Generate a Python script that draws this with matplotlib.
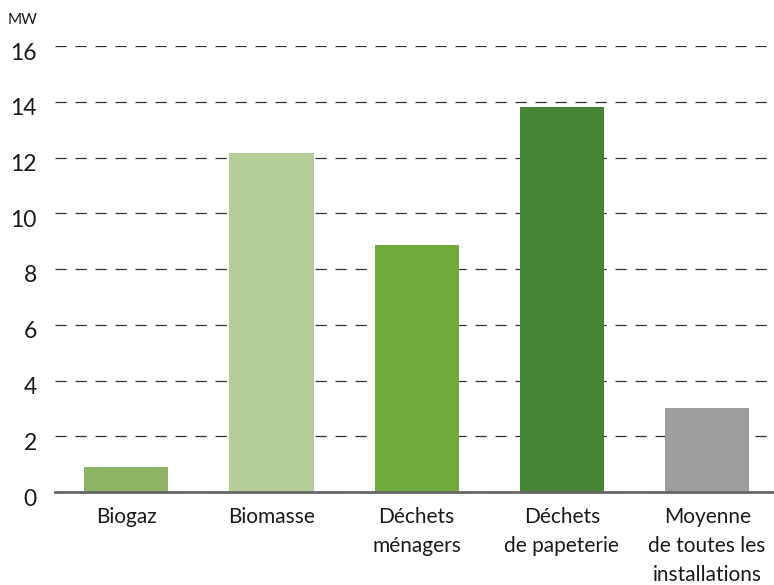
import matplotlib
matplotlib.use("Agg")
import matplotlib.pyplot as plt
from matplotlib.transforms import ScaledTranslation

categories = ["Biogaz", "Biomasse", "Déchets\nménagers", "Déchets\nde papeterie", "Moyenne\nde toutes les\ninstallations"]
values = [0.9, 12.15, 8.85, 13.8, 3.0]
colors = ["#8db364", "#b5cd98", "#6faa3b", "#458535", "#9d9ea0"]
yticks = [0, 2, 4, 6, 8, 10, 12, 14, 16]

plt.rcParams['font.family'] = ['Lato', 'DejaVu Sans']

fig = plt.figure(figsize=(7.74, 5.85), dpi=100)
ax = fig.add_axes([55/774, 93/585, (774-55)/774, (492-46)/585])

x = list(range(len(categories)))
ax.bar(x, values, width=0.58, color=colors, zorder=3)

ax.set_xlim(-0.49, 4.46)
ax.set_ylim(0, 16)
ax.set_yticks(yticks)
ax.set_yticklabels([str(t) for t in yticks], fontsize=16.5, color="#1a1a1a")
ax.set_xticks(x)
ax.set_xticklabels(categories, fontsize=15, color="#1a1a1a", linespacing=1.55, va="top")
ax.tick_params(axis="both", length=0)
ax.tick_params(axis="y", pad=13)
ax.tick_params(axis="x", pad=11)
for lab in ax.get_yticklabels():
    lab.set_transform(lab.get_transform() + ScaledTranslation(0, -5/100, fig.dpi_scale_trans))

ax.yaxis.grid(True, linestyle=(0, (9, 7)), color="#333333", linewidth=0.9, zorder=0)
ax.set_axisbelow(True)
for s in ["top", "right", "left"]:
    ax.spines[s].set_visible(False)
ax.spines["bottom"].set_color("#666666")
ax.spines["bottom"].set_linewidth(2)
ax.spines["bottom"].set_zorder(4)

fig.text(8/774, 1 - 20/585, "MW", fontsize=11, color="#1a1a1a", va="center", ha="left")

fig.savefig("out.png", dpi=100)
